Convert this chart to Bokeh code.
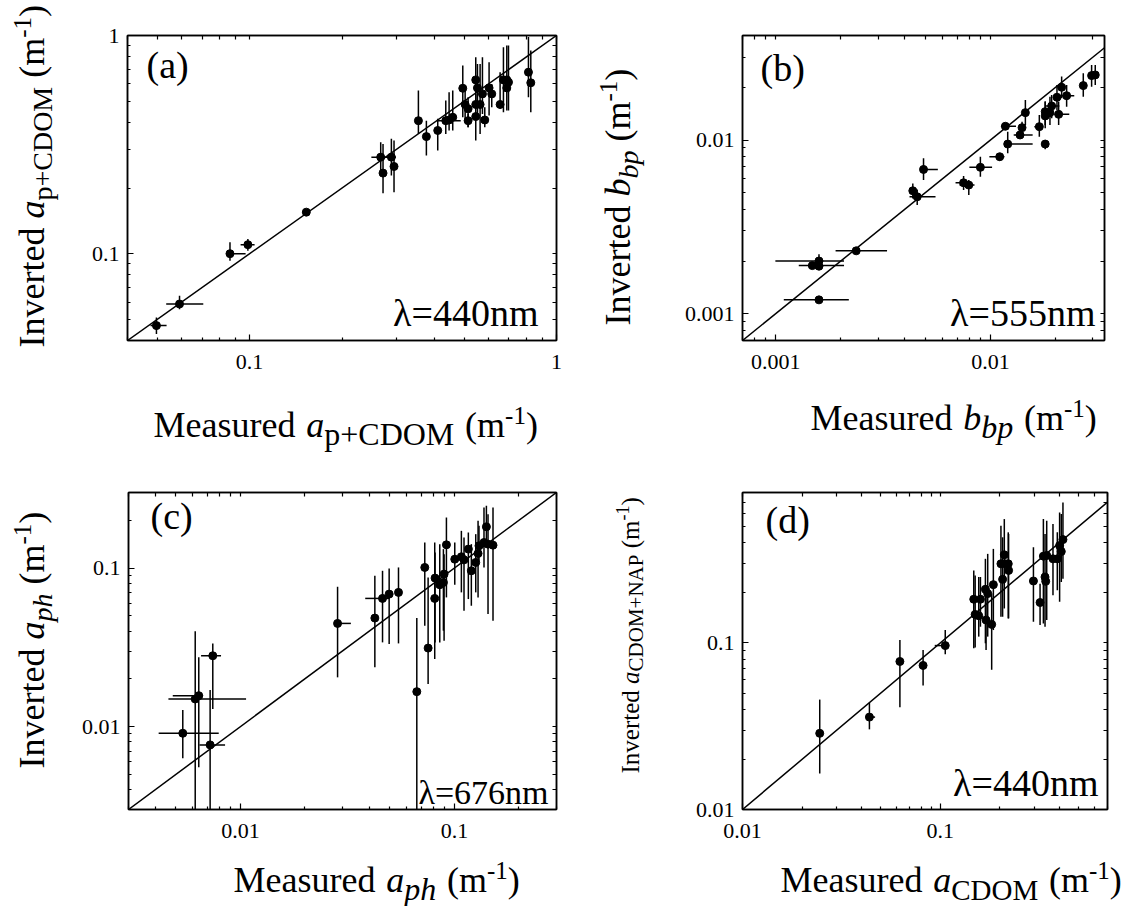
import math
from bokeh.plotting import figure
from bokeh.models import FixedTicker, CustomJSTickFormatter, LogAxis, Label
from bokeh.layouts import column, row
from bokeh.embed import file_html
from bokeh.resources import INLINE

FONT = "Liberation Serif"

# ---------------- Panel (a): a_p+CDOM at 440 nm ----------------
A_x = [0.0497, 0.0591, 0.0863, 0.0987, 0.153, 0.2674, 0.2721, 0.2897, 0.2955, 0.3548,
       0.3767, 0.4102, 0.4357, 0.4467, 0.4591, 0.495, 0.5038, 0.5152, 0.5152, 0.5456,
       0.5456, 0.5456, 0.5526, 0.5637, 0.5737, 0.5838, 0.603, 0.6152, 0.655, 0.6716,
       0.6887, 0.6887, 0.6975, 0.8102, 0.8246]
A_y = [0.0468, 0.0588, 0.100, 0.110, 0.155, 0.277, 0.234, 0.277, 0.251, 0.407,
       0.344, 0.367, 0.407, 0.410, 0.422, 0.573, 0.483, 0.461, 0.407, 0.626,
       0.483, 0.425, 0.575, 0.483, 0.540, 0.410, 0.575, 0.540, 0.483, 0.626,
       0.626, 0.575, 0.611, 0.679, 0.607]
A_ylo = [0.0428, 0.0557, 0.0929, 0.1032, None, 0.232, 0.189, 0.228, 0.191, 0.354,
         0.2815, 0.297, 0.354, 0.367, 0.367, 0.422, 0.400, 0.380, 0.380, 0.469,
         None, 0.330, 0.437, 0.354, 0.437, 0.380, 0.430, 0.469, 0.461, 0.445,
         0.453, None, 0.453, 0.5215, 0.445]
A_yhi = [0.0510, 0.0642, 0.1127, 0.1168, None, 0.324, 0.3185, 0.336, 0.330, 0.5595,
         0.407, 0.415, 0.503, 0.550, 0.5595, 0.729, 0.569, 0.5215, 0.437, 0.7955,
         None, 0.540, 0.741, 0.741, 0.7955, 0.469, 0.7545, 0.600, 0.679, 0.884,
         0.900, None, 0.900, 0.983, 0.8535]
A_xlo = [0.04754, 0.05348, 0.08456, 0.09346, None, 0.2493, None, 0.2811, None, None,
         None, None, 0.4072] + [None] * 22
A_xhi = [0.05363, 0.07063, 0.09703, 0.1038, None, 0.2992, None, 0.2992, None, None,
         None, None, 0.4875] + [None] * 22

# ---------------- Panel (b): b_bp at 555 nm ----------------
B_x = [0.00148, 0.00159, 0.00159, 0.00159, 0.00237, 0.00435, 0.00456, 0.00488, 0.0075, 0.00793,
       0.00898, 0.01105, 0.01174, 0.01204, 0.01374, 0.01404, 0.01455, 0.0169, 0.018, 0.018,
       0.018, 0.01894, 0.01929, 0.02079, 0.02042, 0.02147, 0.02265, 0.02708, 0.02961, 0.03079]
B_y = [0.00189, 0.00201, 0.001875, 0.0012, 0.0023, 0.0051, 0.00471, 0.00677, 0.00567, 0.0055,
       0.00696, 0.00801, 0.0120, 0.00948, 0.01069, 0.01178, 0.01438, 0.01194, 0.00948, 0.01376,
       0.01457, 0.01438, 0.01571, 0.01406, 0.01763, 0.02013, 0.018, 0.02058, 0.0235, 0.02371]
B_ylo = [None, 0.00179, None, None, None, 0.00461, 0.00422, 0.00588, 0.00515, 0.00482,
         0.00615, 0.0076, None, 0.00838, None, 0.01093, 0.0122, 0.01045, 0.00884, 0.01168,
         0.0122, 0.0122, 0.01334, 0.0122, 0.01489, 0.0174, 0.01557, 0.01778, 0.0203, 0.02076]
B_yhi = [None, 0.0022, None, None, None, 0.00562, 0.00519, 0.00784, 0.0062, 0.00588,
         0.00801, 0.00838, None, 0.01117, None, 0.01276, 0.01701, 0.01394, 0.0100, 0.01664,
         0.01664, 0.01778, 0.01818, 0.01664, 0.02076, 0.02319, 0.02076, 0.02424, 0.02707, 0.02707]
B_xlo = [0.00128, 0.000996, None, 0.00109, 0.0019, 0.0042, 0.0042, 0.00476, 0.00688, 0.00718,
         0.00798, 0.00989, 0.0112, 0.01162, 0.01284, None, None, 0.01602, None, None,
         None, None, 0.01815, 0.01984, None, None, 0.02094, None, None, None]
B_xhi = [0.00208, 0.00208, None, 0.00219, 0.0033, 0.00454, 0.00555, 0.00569, 0.00793, 0.00843,
         0.01018, 0.01162, 0.01316, 0.01573, 0.01573, None, None, 0.01751, None, None,
         None, None, 0.02094, 0.0233, None, None, 0.02458, None, None, None]

# ---------------- Panel (c): a_ph at 676 nm ----------------
C_x = [0.00538, 0.00615, 0.00639, 0.00743, 0.00722, 0.02845, 0.04249, 0.04615, 0.04956, 0.0548,
       0.06673, 0.07271, 0.07537, 0.08092, 0.08122, 0.08543, 0.08885, 0.0895, 0.09178, 0.1004,
       0.1078, 0.1109, 0.1162, 0.12, 0.1258, 0.129, 0.1303, 0.1375, 0.1411, 0.1436, 0.1515]
C_y = [0.00908, 0.01494, 0.01568, 0.028, 0.00767, 0.04479, 0.0484, 0.0644, 0.06857, 0.0703,
       0.01662, 0.101, 0.0313, 0.0644, 0.0865, 0.07852, 0.0812, 0.0917, 0.1403, 0.1139,
       0.1179, 0.1128, 0.1318, 0.0962, 0.1086, 0.1237, 0.1383, 0.1451, 0.1822, 0.1417, 0.1396]
C_ylo = [0.00632, 0.002, 0.00554, 0.01292, 0.002, 0.02046, 0.02366, 0.034, 0.0332, 0.0335,
         0.002, 0.0433, 0.01857, 0.0267, 0.034, 0.034, 0.0403, 0.0348, 0.06534, 0.07852,
         0.0703, 0.0538, 0.0638, 0.0579, 0.0703, 0.0653, 0.1112, 0.101, 0.1451, 0.0513, 0.0466]
C_yhi = [0.01274, 0.0399, 0.02735, 0.0335, 0.01703, 0.07627, 0.0894, 0.0962, 0.0996, 0.101,
         0.0484, 0.1451, 0.0873, 0.1451, 0.1255, 0.1417, 0.1318, 0.1225, 0.2086, 0.1451,
         0.1719, 0.156, 0.1678, 0.1417, 0.1638, 0.1988, 0.1848, 0.2412, 0.2471, 0.2189, 0.2412]
C_xlo = [0.00415, 0.00461, 0.00483, 0.00655, 0.00644, 0.02845, None, 0.03831] + [None] * 23
C_xhi = [0.00792, 0.01063, 0.00667, 0.00812, 0.00848, 0.03283, None, 0.04956] + [None] * 23

# ---------------- Panel (d): a_CDOM(+NAP) at 440 nm ----------------
D_x = [0.02457, 0.04381, 0.06247, 0.08183, 0.1059, 0.1476, 0.15, 0.1564, 0.1595, 0.169,
       0.1703, 0.1736, 0.1818, 0.1854, 0.2025, 0.2065, 0.2106, 0.213, 0.2205, 0.2214,
       0.2956, 0.3193, 0.3319, 0.3383, 0.341, 0.345, 0.3711, 0.3903, 0.4009, 0.4088, 0.4168]
D_y = [0.02866, 0.03587, 0.07738, 0.07326, 0.0964, 0.183, 0.1483, 0.1456, 0.183, 0.2099,
       0.1372, 0.1978, 0.1292, 0.2238, 0.2986, 0.2408, 0.338, 0.2986, 0.2986, 0.2725,
       0.2354, 0.1748, 0.3319, 0.2487, 0.2343, 0.3349, 0.3199, 0.3199, 0.3842, 0.3538, 0.4172]
D_ylo = [0.01646, 0.03028, 0.04114, 0.0556, 0.0856, 0.0929, 0.0938, 0.1091, 0.1251, 0.0995,
         0.0908, 0.1091, 0.069, 0.1195, 0.1436, 0.1436, 0.161, None, 0.1403, 0.1404,
         0.134, 0.128, 0.131, 0.1251, None, 0.1372, 0.1933, 0.2071, 0.1764, 0.2321, 0.2431]
D_yhi = [0.0457, 0.04367, 0.1042, 0.0908, 0.1195, 0.2725, 0.2544, 0.2487, 0.2487, 0.3199,
         0.2218, 0.3425, 0.1978, 0.3669, 0.5055, 0.4307, 0.5541, None, 0.4613, 0.4508,
         0.3754, 0.2269, 0.554, 0.4508, None, 0.5415, 0.5172, 0.4613, 0.6073, 0.5935, 0.6965]
D_xlo = [None, 0.0421, None, None, 0.0937] + [None] * 26
D_xhi = [None, 0.0468, None, None, 0.1072] + [None] * 26

# axis ranges and ticks
A_range = (0.04, 1.0)
B_xrange, B_yrange = (0.0007, 0.034), (0.0007, 0.04)
C_range = (0.003, 0.3)
D_xrange, D_yrange = (0.01, 0.7), (0.01, 0.8)

A_major = [0.1, 1.0]
A_minor = [0.04, 0.05, 0.06, 0.07, 0.08, 0.09, 0.2, 0.3, 0.4, 0.5, 0.6, 0.7, 0.8, 0.9]
B_major = [0.001, 0.01]
B_minor = [0.0007, 0.0008, 0.0009, 0.002, 0.003, 0.004, 0.005, 0.006, 0.007, 0.008, 0.009, 0.02, 0.03]
C_major = [0.01, 0.1]
C_minor = [0.003, 0.004, 0.005, 0.006, 0.007, 0.008, 0.009, 0.02, 0.03, 0.04, 0.05, 0.06, 0.07, 0.08, 0.09, 0.2, 0.3]
D_major = [0.01, 0.1]
D_minor = [0.02, 0.03, 0.04, 0.05, 0.06, 0.07, 0.08, 0.09, 0.2, 0.3, 0.4, 0.5, 0.6, 0.7]

# Times-compatible advance widths (em) for composing rich labels
W_REG = {'M': .889, 'e': .444, 'a': .444, 's': .389, 'u': .5, 'r': .333, 'd': .5, 'I': .333,
         'n': .5, 'v': .5, 't': .278, '(': .333, ')': .333, 'm': .778, '-': .333, '1': .5,
         'p': .5, '+': .564, 'C': .667, 'D': .722, 'O': .722, 'N': .722, 'A': .722, 'P': .556,
         'b': .5, 'h': .5}
W_IT = {'a': .5, 'b': .5, 'p': .5, 'h': .5}
C_MID = 0.34  # distance (em) from the alphabetic baseline to the middle of the text box


def text_width(s, size, italic):
    tab = W_IT if italic else W_REG
    return sum(tab.get(c, W_REG.get(c, .5)) for c in s) * size


def add_text(p, txt, x, y, size, italic=False, align="left", angle=0.0):
    p.add_layout(Label(x=x, y=y, x_units="screen", y_units="screen", text=txt,
                       text_font=FONT, text_font_size=f"{size}px",
                       text_font_style="italic" if italic else "normal",
                       text_align=align, text_baseline="middle",
                       angle=angle, text_color="black"))


def rich_label(p, pieces, x0, y0, vertical=False):
    """x0/y0: start of the text on its baseline (screen px from the canvas' bottom-left)."""
    adv = 0.0
    for piece in pieces:
        if piece[0] is None:
            adv += piece[1]
            continue
        txt, size, italic, dy = piece
        w = text_width(txt, size, italic)
        if vertical:
            add_text(p, txt, x0 - dy - C_MID * size, y0 + adv + w / 2, size, italic,
                     align="center", angle=math.pi / 2)
        else:
            add_text(p, txt, x0 + adv, y0 + dy + C_MID * size, size, italic)
        adv += w


def label_pieces(word, sym, sym_it, sub, sub_it, M=36, S=31, U=25, gap=0.25):
    return [(word, M, False, 0), (None, gap * M), (sym, M, sym_it, 0), (sub, S, sub_it, -0.2 * M),
            (None, gap * M), ("(m", M, False, 0), ("-1", U, False, 0.38 * M), (")", M, False, 0)]


def text_canvas(w, h):
    p = figure(width=w, height=h, x_range=(0, 1), y_range=(0, 1), output_backend="svg",
               toolbar_location=None, x_axis_location=None, y_axis_location=None,
               min_border_left=0, min_border_right=0, min_border_top=0, min_border_bottom=0)
    p.grid.visible = False
    p.outline_line_color = None
    p.background_fill_color = "white"
    p.border_fill_color = "white"
    return p


def style_axis(ax, major, minor, labels):
    ax.axis_line_color = "black"
    ax.axis_line_width = 1.5
    ax.major_tick_out = 0
    ax.minor_tick_out = 0
    ax.major_tick_line_width = 1.2
    ax.minor_tick_line_width = 1.2
    if labels is not None:
        ax.ticker = FixedTicker(ticks=major, minor_ticks=minor)
        ax.formatter = CustomJSTickFormatter(code="return tick.toString();")
        ax.major_tick_in = 6
        ax.minor_tick_in = 3
        ax.major_label_text_font = FONT
        ax.major_label_text_color = "black"
        ax.major_label_text_font_size = "22px"
        ax.major_label_standoff = labels
    else:
        # mirrored frame ticks, no labels
        ax.ticker = FixedTicker(ticks=[], minor_ticks=sorted(major + minor))
        ax.major_tick_in = 0
        ax.minor_tick_in = 4


def make_panel(x, y, ylo, yhi, xlo, xhi, xr, yr, xmaj, xmin, ymaj, ymin, w, h, mb):
    p = figure(width=w, height=h, x_axis_type="log", y_axis_type="log", x_range=xr, y_range=yr,
               output_backend="svg", toolbar_location=None,
               min_border_left=mb[0], min_border_right=mb[1], min_border_top=mb[2], min_border_bottom=mb[3])
    p.grid.visible = False
    p.outline_line_color = "black"
    p.outline_line_width = 1.5
    p.background_fill_color = "white"
    p.border_fill_color = "white"
    style_axis(p.xaxis[0], xmaj, xmin, 14)
    style_axis(p.yaxis[0], ymaj, ymin, 8)
    top = LogAxis()
    right = LogAxis()
    style_axis(top, xmaj, xmin, None)
    style_axis(right, ymaj, ymin, None)
    p.add_layout(top, "above")
    p.add_layout(right, "right")

    lo = min(xr[0], yr[0])
    hi = max(xr[1], yr[1])
    p.line([lo, hi], [lo, hi], line_color="black", line_width=1.5)

    vx = [a for a, l in zip(x, ylo) if l is not None]
    vl = [l for l in ylo if l is not None]
    vu = [u for u in yhi if u is not None]
    p.segment(x0=vx, y0=vl, x1=vx, y1=vu, line_color="black", line_width=1.5)
    hy = [b for b, l in zip(y, xlo) if l is not None]
    hl = [l for l in xlo if l is not None]
    hu = [u for u in xhi if u is not None]
    p.segment(x0=hl, y0=hy, x1=hu, y1=hy, line_color="black", line_width=1.5)
    p.scatter(x, y, size=8, fill_color="black", line_color="black")
    return p


# ---- main panels: (left, right, top, bottom) borders ----
pa = make_panel(A_x, A_y, A_ylo, A_yhi, A_xlo, A_xhi, A_range, A_range, A_major, A_minor,
                A_major, A_minor, 490, 392, (49, 12, 35, 52))
pb = make_panel(B_x, B_y, B_ylo, B_yhi, B_xlo, B_xhi, B_xrange, B_yrange, B_major, B_minor,
                B_major, B_minor, 453, 392, (66, 25, 35, 52))
pc = make_panel(C_x, C_y, C_ylo, C_yhi, C_xlo, C_xhi, C_range, C_range, C_major, C_minor,
                C_major, C_minor, 490, 396, (49, 12, 38, 41))
pd = make_panel(D_x, D_y, D_ylo, D_yhi, D_xlo, D_xhi, D_xrange, D_yrange, D_major, D_minor,
                D_major, D_minor, 453, 396, (66, 22, 38, 41))

# panel letters and wavelength tags (inside frames; y = baseline above frame bottom)
for p, tag, lx, ly in ((pa, "(a)", 19, 263), (pb, "(b)", 18, 260), (pc, "(c)", 22, 281), (pd, "(d)", 23, 277)):
    add_text(p, tag, lx, ly + C_MID * 38, 38)
for p, tag, lx, ly, fs in ((pa, "λ=440nm", 411, 15, 38), (pb, "λ=555nm", 353, 15, 38),
                           (pc, "λ=676nm", 420, 5, 34), (pd, "λ=440nm", 356, 14, 38)):
    add_text(p, tag, lx, ly + C_MID * fs, fs, align="right")

# ---- axis-title canvases ----
ya = text_canvas(78, 392)
rich_label(ya, label_pieces("Inverted", "a", True, "p+CDOM", False, S=28), 44, 45, vertical=True)
xa = text_canvas(568, 62)
rich_label(xa, label_pieces("Measured", "a", True, "p+CDOM", False, S=32, gap=0.3), 153, 17)

yb = text_canvas(108, 392)
rich_label(yb, label_pieces("Inverted", "b", True, "bp", True, S=28), 62, 67, vertical=True)
xb = text_canvas(561, 62)
rich_label(xb, label_pieces("Measured", "b", True, "bp", True, S=32, gap=0.3), 242, 24)

yc = text_canvas(78, 396)
rich_label(yc, label_pieces("Inverted", "a", True, "ph", True, S=28), 44, 82, vertical=True)
xc = text_canvas(568, 56)
rich_label(xc, label_pieces("Measured", "a", True, "ph", True, S=32, gap=0.3), 233, 14)

yd = text_canvas(108, 396)
rich_label(yd, label_pieces("Inverted", "a", True, "CDOM+NAP", False, M=25, S=21, U=18), 70, 77, vertical=True)
xd = text_canvas(561, 56)
rich_label(xd, label_pieces("Measured", "a", True, "CDOM", False, S=29, gap=0.3), 212, 14)

# y-title canvases are wrapped in their own column so that the row does not align their frame
reg_a = column(row(column(ya), pa), xa)
reg_b = column(row(column(yb), pb), xb)
reg_c = column(row(column(yc), pc), xc)
reg_d = column(row(column(yd), pd), xd)
layout = column(row(reg_a, reg_b), row(reg_c, reg_d))
open("out.html", "w").write(file_html(layout, INLINE))
